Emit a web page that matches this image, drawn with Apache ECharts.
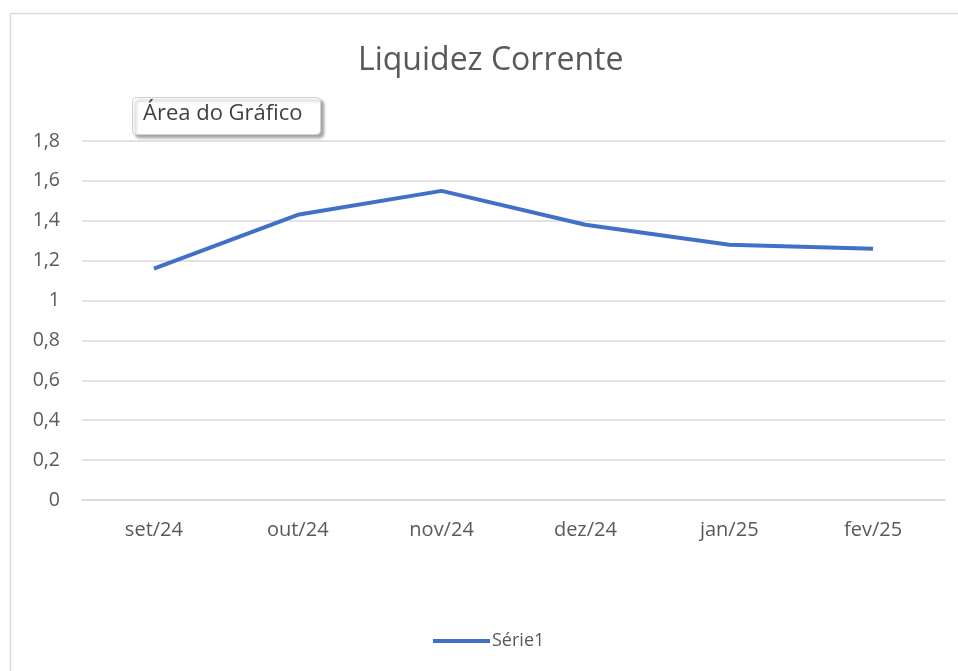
<!DOCTYPE html>
<html>
<head>
<meta charset="utf-8">
<script src="https://cdn.jsdelivr.net/npm/echarts@6/dist/echarts.min.js"></script>
<style>html,body{margin:0;padding:0;background:#fff;}#c{width:958px;height:671px;}</style>
</head>
<body>
<div id="c"></div>
<script>
var categories = ['set/24','out/24','nov/24','dez/24','jan/25','fev/25'];
var serie1 = [1.16, 1.43, 1.55, 1.38, 1.28, 1.26];
var yTicks = [0, 0.2, 0.4, 0.6, 0.8, 1, 1.2, 1.4, 1.6, 1.8];
var titleText = 'Liquidez Corrente';
var seriesName = 'Série1';
var tipText = 'Área do Gráfico';

var FONT = '"Open Sans", "Noto Sans", sans-serif';
var chart = echarts.init(document.getElementById('c'), null, {renderer: 'canvas'});
chart.setOption({
  backgroundColor: '#ffffff',
  animation: false,
  title: {
    text: titleText, left: 353, top: 40,
    textStyle: {fontFamily: FONT, fontSize: 32, fontWeight: 'normal', color: '#595959'}
  },
  legend: {
    bottom: 16, left: 428,
    itemWidth: 57, itemHeight: 4,
    icon: 'rect',
    data: [seriesName],
    textStyle: {fontFamily: FONT, fontSize: 18, color: '#595959', padding: [0,0,0,-3]}
  },
  grid: {left: 82, right: 13, top: 141, bottom: 171},
  xAxis: {
    type: 'category', data: categories, boundaryGap: true,
    axisLine: {show: true, lineStyle: {color: '#d9d9d9', width: 1.5}},
    axisTick: {show: false},
    axisLabel: {fontFamily: FONT, fontSize: 20, color: '#595959', margin: 20}
  },
  yAxis: {
    type: 'value', min: 0, max: 1.8, interval: 0.2,
    axisLine: {show: false}, axisTick: {show: false},
    splitLine: {lineStyle: {color: '#d9d9d9', width: 1.5}},
    axisLabel: {fontFamily: FONT, fontSize: 19.5, color: '#595959', margin: 22,
      formatter: function (v) {
        var t = yTicks.find(function (k) { return Math.abs(k - v) < 1e-6; });
        var x = t !== undefined ? t : v;
        return String(Math.round(x * 10) / 10).replace('.', ',');
      }}
  },
  series: [{
    name: seriesName, type: 'line', data: serie1,
    symbol: 'none', lineStyle: {color: '#4070c8', width: 4}, itemStyle: {color: '#4070c8'}
  }],
  graphic: [
    {type: 'polyline', shape: {points: [[10.5, 671], [10.5, 13.5], [958, 13.5]]},
     style: {stroke: '#d9d9d9', lineWidth: 1.5, fill: null}, silent: true},
    {type: 'rect', left: 132, top: 97, z: 100,
     shape: {width: 188, height: 37, r: 4},
     style: {fill: '#ffffff', stroke: '#d0d0d0', lineWidth: 1,
       shadowBlur: 3, shadowOffsetX: 3, shadowOffsetY: 3, shadowColor: 'rgba(0,0,0,0.35)'}},
    {type: 'text', left: 143, top: 103, z: 101,
     style: {text: tipText, font: '22px ' + FONT, fill: '#404040'}}
  ]
});
</script>
</body>
</html>
